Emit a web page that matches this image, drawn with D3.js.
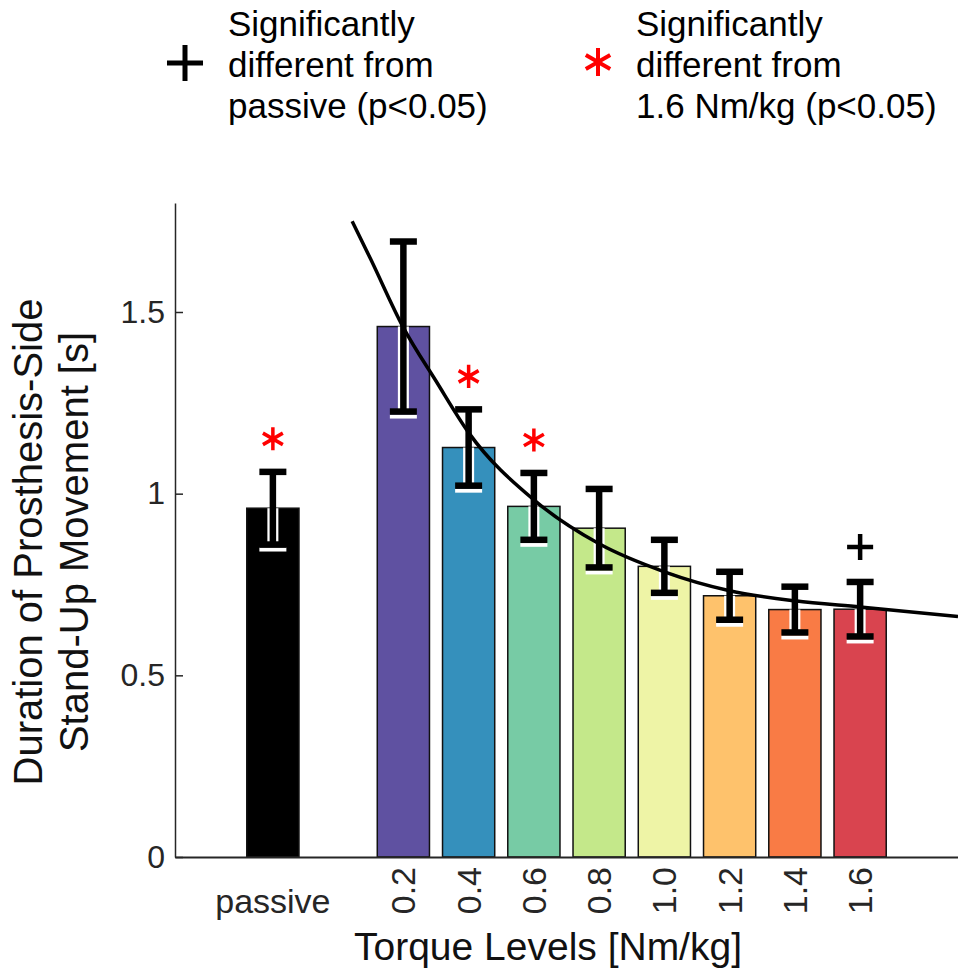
<!DOCTYPE html>
<html>
<head>
<meta charset="utf-8">
<script src="https://cdn.jsdelivr.net/npm/d3@7"></script>
<style>
	body { margin: 0; background: #fff; }
	text { font-family: "Liberation Sans", Arial, Helvetica, sans-serif; }
</style>
</head>
<body>
<div id="chart"></div>
<script>
// values
var passiveLabel = "passive";
var passiveMean = 0.96;
var passiveErr = 0.10;

var torqueLevels = ["0.2", "0.4", "0.6", "0.8", "1.0", "1.2", "1.4", "1.6"];
var durationMean = [1.46, 1.127, 0.965, 0.905, 0.80, 0.719, 0.681, 0.682];
var durationErr = [0.234, 0.105, 0.092, 0.108, 0.073, 0.066, 0.063, 0.075];
var barColors = ["#5f51a1", "#3590bc", "#77cba5", "#c4e88a", "#eef4a6", "#fec26c", "#f97b45", "#d9444f"];

// fitted curve
var fitTorque = [0.043, 0.1, 0.2, 0.3, 0.4, 0.6, 0.8, 1.0, 1.2, 1.4, 1.6, 1.9];
var fitDuration = [1.75, 1.645, 1.457, 1.31, 1.168, 0.983, 0.862, 0.785, 0.733, 0.705, 0.688, 0.662];

var starred = ["passive", "0.4", "0.6"];
var plussed = ["1.6"];

var yTicks = [0, 0.5, 1, 1.5];
var yTitle = ["Duration of Prosthesis-Side", "Stand-Up Movement [s]"];
var xTitle = "Torque Levels [Nm/kg]";
var legendPlus = ["Significantly", "different from", "passive (p<0.05)"];
var legendStar = ["Significantly", "different from", "1.6 Nm/kg (p<0.05)"];

var width = 958;
var height = 978;
var axisColor = "#262626";

var svg = d3.select("#chart").append("svg")
	.attr("width", width)
	.attr("height", height);

var categories = [passiveLabel, " "].concat(torqueLevels);

var x = d3.scaleBand()
	.domain(categories)
	.range([175, 958])
	.paddingInner(0.2)
	.paddingOuter(1.1);
var y = d3.scaleLinear()
	.domain([0, 1.8])
	.range([857, 203]);
var xt = d3.scaleLinear()
	.domain([0.2, 1.6])
	.range([x("0.2") + x.bandwidth() / 2, x("1.6") + x.bandwidth() / 2]);

function cx(c){ return x(c) + x.bandwidth() / 2; }

var rows = [{cat: passiveLabel, mean: passiveMean, err: passiveErr, color: "#000000"}];
torqueLevels.forEach(function(c, i){
	rows.push({cat: c, mean: durationMean[i], err: durationErr[i], color: barColors[i]});
});

// bars
svg.selectAll("rect.bar").data(rows).enter()
	.append("rect")
	.attr("class", "bar")
	.attr("x", function(d){ return x(d.cat); })
	.attr("y", function(d){ return y(d.mean); })
	.attr("width", x.bandwidth())
	.attr("height", function(d){ return y(0) - y(d.mean); })
	.attr("fill", function(d){ return d.color; })
	.attr("stroke", "#111")
	.attr("stroke-width", 1.5);

// white halo on the lower half of the error bars
var capW = 27;
svg.selectAll("line.halo").data(rows).enter()
	.append("line")
	.attr("x1", function(d){ return cx(d.cat); })
	.attr("x2", function(d){ return cx(d.cat); })
	.attr("y1", function(d){ return y(d.mean); })
	.attr("y2", function(d){ return y(d.mean - d.err); })
	.attr("stroke", "#fff")
	.attr("stroke-width", 11);
svg.selectAll("line.halocap").data(rows).enter()
	.append("line")
	.attr("x1", function(d){ return cx(d.cat) - capW / 2; })
	.attr("x2", function(d){ return cx(d.cat) + capW / 2; })
	.attr("y1", function(d){ return y(d.mean - d.err) + 5; })
	.attr("y2", function(d){ return y(d.mean - d.err) + 5; })
	.attr("stroke", "#fff")
	.attr("stroke-width", 4);

// error bars
var eb = svg.selectAll("g.err").data(rows).enter().append("g");
eb.append("line")
	.attr("x1", function(d){ return cx(d.cat); })
	.attr("x2", function(d){ return cx(d.cat); })
	.attr("y1", function(d){ return y(d.mean + d.err); })
	.attr("y2", function(d){ return y(d.mean - d.err); })
	.attr("stroke", "#000")
	.attr("stroke-width", 6.5);
[1, -1].forEach(function(s){
	eb.append("line")
		.attr("x1", function(d){ return cx(d.cat) - capW / 2; })
		.attr("x2", function(d){ return cx(d.cat) + capW / 2; })
		.attr("y1", function(d){ return y(d.mean + s * d.err); })
		.attr("y2", function(d){ return y(d.mean + s * d.err); })
		.attr("stroke", "#000")
		.attr("stroke-width", 6.5);
});

// fitted curve
svg.append("clipPath").attr("id", "clip")
	.append("rect").attr("x", 175).attr("y", 203).attr("width", 783).attr("height", 654);
svg.append("path")
	.datum(fitTorque.map(function(t, i){ return [t, fitDuration[i]]; }))
	.attr("clip-path", "url(#clip)")
	.attr("d", d3.line()
		.x(function(d){ return xt(d[0]); })
		.y(function(d){ return y(d[1]); })
		.curve(d3.curveMonotoneX))
	.attr("fill", "none")
	.attr("stroke", "#000")
	.attr("stroke-width", 3.5);

// significance markers
var starSym = d3.symbol(d3.symbolAsterisk, 374);
var plusSym = d3.symbol(d3.symbolPlus, 223);
svg.selectAll("path.star").data(rows.filter(function(d){ return starred.indexOf(d.cat) >= 0; })).enter()
	.append("path")
	.attr("d", starSym)
	.attr("transform", function(d){ return "translate(" + cx(d.cat) + "," + (y(d.mean + d.err) - 33) + ")"; })
	.attr("fill", "none")
	.attr("stroke", "#ff0000")
	.attr("stroke-width", 3.5);
svg.selectAll("path.plus").data(rows.filter(function(d){ return plussed.indexOf(d.cat) >= 0; })).enter()
	.append("path")
	.attr("d", plusSym)
	.attr("transform", function(d){ return "translate(" + cx(d.cat) + "," + (y(d.mean + d.err) - 35) + ")"; })
	.attr("fill", "none")
	.attr("stroke", "#000")
	.attr("stroke-width", 4.5);

// axes
var yAxis = svg.append("g")
	.attr("transform", "translate(175,0)")
	.call(d3.axisLeft(y).tickValues(yTicks).tickFormat(d3.format("~g"))
		.tickSizeInner(-8).tickSizeOuter(0).tickPadding(10));
yAxis.select(".domain").attr("stroke", axisColor).attr("stroke-width", 1.5);
yAxis.selectAll(".tick line").attr("stroke", axisColor).attr("stroke-width", 1.5);
yAxis.selectAll(".tick text")
	.attr("fill", axisColor)
	.style("font-size", "32px")
	.style("font-family", "'Liberation Sans', Arial, sans-serif");

var xAxis = svg.append("g")
	.attr("transform", "translate(0," + y(0) + ")")
	.call(d3.axisBottom(x).tickSize(0).tickPadding(0));
xAxis.select(".domain").attr("stroke", axisColor).attr("stroke-width", 2);
xAxis.selectAll(".tick text")
	.attr("fill", axisColor)
	.style("font-size", "34px")
	.style("font-family", "'Liberation Sans', Arial, sans-serif")
	.each(function(d){
		var t = d3.select(this);
		if(d === passiveLabel){
			t.attr("y", 56).attr("dy", 0);
		} else {
			t.attr("transform", "rotate(-90)")
				.attr("text-anchor", "end")
				.attr("x", -10)
				.attr("y", 0)
				.attr("dy", "0.35em");
		}
	});

// axis titles
yTitle.forEach(function(s, i){
	svg.append("text")
		.attr("transform", "translate(" + (42 + i * 46) + ",542) rotate(-90)")
		.attr("text-anchor", "middle")
		.attr("fill", "#111")
		.style("font-size", "40px")
		.text(s);
});
svg.append("text")
	.attr("x", 548)
	.attr("y", 960)
	.attr("text-anchor", "middle")
	.attr("fill", "#111")
	.style("font-size", "39px")
	.text(xTitle);

// legend
svg.append("path")
	.attr("d", d3.symbol(d3.symbolPlus, 425))
	.attr("transform", "translate(185,63)")
	.attr("fill", "none")
	.attr("stroke", "#000")
	.attr("stroke-width", 5);
svg.append("path")
	.attr("d", d3.symbol(d3.symbolAsterisk, 560))
	.attr("transform", "translate(598,62)")
	.attr("fill", "none")
	.attr("stroke", "#ff0000")
	.attr("stroke-width", 4);
[[legendPlus, 228], [legendStar, 636]].forEach(function(col){
	col[0].forEach(function(s, i){
		svg.append("text")
			.attr("x", col[1])
			.attr("y", 36 + i * 41)
			.attr("fill", "#000")
			.style("font-size", "35px")
			.text(s);
	});
});
</script>
</body>
</html>
